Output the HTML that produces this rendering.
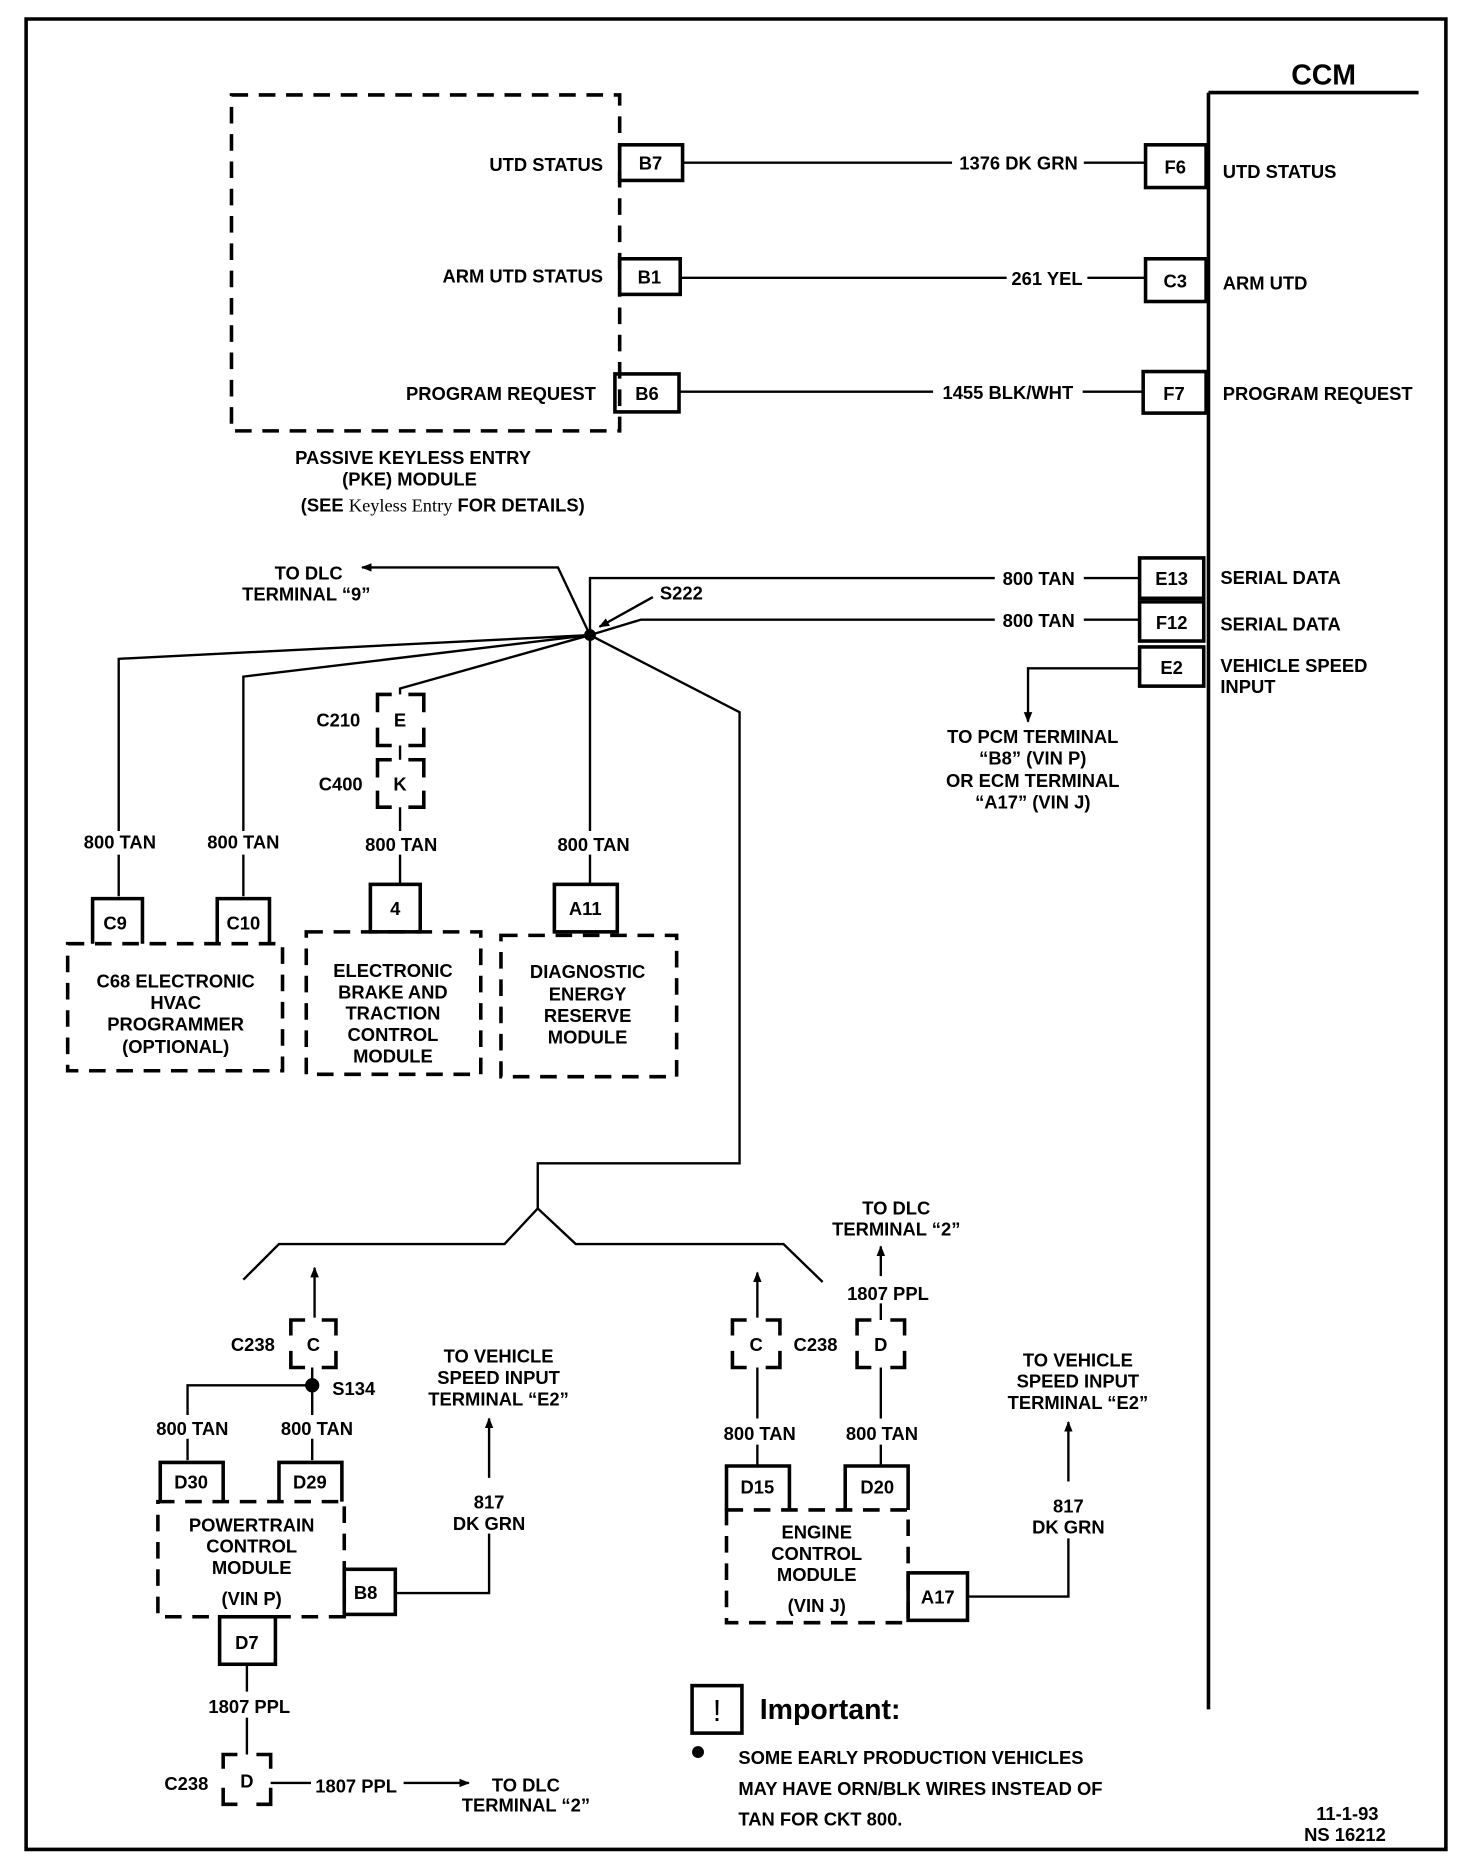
<!DOCTYPE html>
<html><head><meta charset="utf-8"><style>
html,body{margin:0;padding:0;background:#fff;}
svg{display:block;}
text{font-family:"Liberation Sans",sans-serif;font-weight:bold;font-size:15.5px;fill:#000;}
.m{text-anchor:middle}.e{text-anchor:end}
</style></head><body>
<svg width="1472" height="1872" viewBox="0 0 1240 1577" preserveAspectRatio="none" xmlns="http://www.w3.org/2000/svg">
<defs><marker id="ah" viewBox="0 0 10 10" refX="9" refY="5" markerWidth="9" markerHeight="9" orient="auto-start-reverse" markerUnits="userSpaceOnUse"><path d="M0,1 L10,5 L0,9 Z" fill="#000"/></marker></defs>
<g fill="none" stroke="#000" stroke-width="2">
<!-- border -->
<path d="M22,16 H1218 V1558 H22 Z" stroke-width="3"/>
<!-- CCM -->
<path d="M1018,78 H1195 M1018,78 V1440" stroke-width="3"/>
<!-- PKE -->
<rect x="195" y="80" width="327" height="283" stroke-width="3" stroke-dasharray="14,9"/>
<g stroke-width="3">
<rect x="522" y="122" width="53" height="30"/><rect x="522" y="218" width="51" height="30"/><rect x="518" y="315" width="54" height="32"/>
<rect x="965" y="122" width="51" height="36"/><rect x="965" y="218" width="51" height="36"/><rect x="963" y="313" width="53" height="35"/>
<rect x="960" y="470" width="54" height="34"/><rect x="960" y="507" width="54" height="33"/><rect x="960" y="545" width="54" height="33"/>
</g>
<path d="M575,137 H802 M913,137 H965 M573,234 H848 M916,234 H965 M572,330 H786 M912,330 H963"/>
<!-- serial data -->
<path d="M838,487 H497 V535 M913,487 H960"/>
<path d="M838,522 H540 L497,535 M913,522 H960"/>
<path d="M497,535 L470,478 H305" marker-end="url(#ah)"/>
<path d="M550,503 L505,528" marker-end="url(#ah)"/>
<circle cx="497" cy="535" r="4" fill="#000"/>
<path d="M497,535 L100,555 V700 M497,535 L205,570 V700 M497,535 L337,580 V585 M497,535 V700 M497,535 L623,600 V980 H453 V1018"/>
<path d="M960,563 H866 V608" marker-end="url(#ah)"/>
<!-- brackets C210/C400 -->
<g stroke-width="3">
<path d="M330,585 H318 V600 M344,585 H357 V600 M318,613 V628 H330 M357,613 V628 H344"/>
<path d="M330,640 H318 V655 M344,640 H357 V655 M318,666 V680 H330 M357,666 V680 H344"/>
</g>
<path d="M337,628 V640 M337,680 V700 M337,720 V745 M100,720 V755 M205,720 V755 M497,720 V745"/>
<!-- pins -->
<g stroke-width="3">
<path d="M78,795 V757 H120 V795"/><path d="M183,795 V757 H227 V795"/>
<rect x="312" y="745" width="42" height="40"/><rect x="467" y="745" width="53" height="40"/>
</g>
<g stroke-width="3" stroke-dasharray="14,9">
<rect x="57" y="795" width="181" height="107"/><rect x="258" y="785" width="147" height="120"/><rect x="422" y="788" width="148" height="119"/>
</g>
<!-- fork -->
<path d="M453,1018 L425,1048 H235 L205,1078 M453,1018 L485,1048 H660 L693,1080"/>
<!-- lower left -->
<path d="M265,1110 V1068" marker-end="url(#ah)"/>
<g stroke-width="3">
<path d="M257,1112 H245 V1125 M271,1112 H283 V1125 M245,1138 V1152 H257 M283,1138 V1152 H271"/>
</g>
<path d="M263,1152 V1192 M263,1167 H158 V1192 M158,1212 V1230 M263,1212 V1230"/>
<circle cx="263" cy="1167" r="5" fill="#000"/>
<g stroke-width="3"><path d="M135,1265 V1232 H188 V1265"/><path d="M235,1265 V1232 H288 V1265"/>
<rect x="290" y="1322" width="43" height="38"/><rect x="185" y="1362" width="47" height="40"/></g>
<rect x="133" y="1265" width="157" height="97" stroke-width="3" stroke-dasharray="14,9"/>
<path d="M333,1342 H412 V1292 M412,1245 V1195" marker-end="url(#ah)"/>
<path d="M208,1402 V1425 M208,1447 V1478"/>
<g stroke-width="3"><path d="M200,1478 H188 V1490 M216,1478 H228 V1490 M188,1506 V1520 H200 M228,1506 V1520 H216"/></g>
<path d="M228,1502 H262"/>
<path d="M340,1502 H395" marker-end="url(#ah)"/>
<!-- lower right -->
<path d="M638,1110 V1072" marker-end="url(#ah)"/>
<path d="M742,1075 V1050" marker-end="url(#ah)"/>
<g stroke-width="3">
<path d="M629,1112 H617 V1125 M645,1112 H657 V1125 M617,1138 V1152 H629 M657,1138 V1152 H645"/>
<path d="M734,1112 H722 V1125 M750,1112 H762 V1125 M722,1138 V1152 H734 M762,1138 V1152 H750"/>
</g>
<path d="M742,1098 V1112 M638,1152 V1195 M742,1152 V1195 M638,1217 V1235 M742,1217 V1235"/>
<g stroke-width="3"><path d="M612,1272 V1235 H665 V1272"/><path d="M712,1272 V1235 H765 V1272"/>
<rect x="765" y="1325" width="50" height="40"/></g>
<rect x="612" y="1272" width="153" height="95" stroke-width="3" stroke-dasharray="14,9"/>
<path d="M815,1345 H900 V1296 M900,1248 V1198" marker-end="url(#ah)"/>
<rect x="583" y="1420" width="42" height="40" stroke-width="3"/>
</g>
<circle cx="588" cy="1476" r="5"/>
<text x="1115" y="71" class="m" style="font-size:24px">CCM</text>
<text x="508" y="144" class="e">UTD STATUS</text>
<text x="508" y="238" class="e">ARM UTD STATUS</text>
<text x="502" y="337" class="e">PROGRAM REQUEST</text>
<text x="548" y="143" class="m">B7</text><text x="547" y="239" class="m">B1</text><text x="545" y="337" class="m">B6</text>
<text x="858" y="143" class="m">1376 DK GRN</text><text x="882" y="240" class="m">261 YEL</text><text x="849" y="336" class="m">1455 BLK/WHT</text>
<text x="990" y="146" class="m">F6</text><text x="990" y="242" class="m">C3</text><text x="989" y="337" class="m">F7</text>
<text x="1030" y="150">UTD STATUS</text><text x="1030" y="244">ARM UTD</text><text x="1030" y="337">PROGRAM REQUEST</text>
<text x="348" y="391" class="m">PASSIVE KEYLESS ENTRY</text>
<text x="345" y="409" class="m">(PKE) MODULE</text>
<text x="373" y="431" class="m">(SEE <tspan style="font-weight:normal;font-family:'Liberation Serif',serif">Keyless Entry</tspan> FOR DETAILS)</text>
<text x="875" y="493" class="m">800 TAN</text><text x="875" y="528" class="m">800 TAN</text>
<text x="987" y="493" class="m">E13</text><text x="987" y="530" class="m">F12</text><text x="987" y="568" class="m">E2</text>
<text x="1028" y="492">SERIAL DATA</text><text x="1028" y="531">SERIAL DATA</text>
<text x="1028" y="566">VEHICLE SPEED</text><text x="1028" y="584">INPUT</text>
<text x="870" y="626" class="m">TO PCM TERMINAL</text><text x="870" y="644" class="m">“B8” (VIN P)</text>
<text x="870" y="663" class="m">OR ECM TERMINAL</text><text x="870" y="681" class="m">“A17” (VIN J)</text>
<text x="260" y="488" class="m">TO DLC</text><text x="258" y="506" class="m">TERMINAL “9”</text>
<text x="574" y="505" class="m">S222</text>
<text x="285" y="612" class="m">C210</text><text x="337" y="612" class="m">E</text>
<text x="287" y="666" class="m">C400</text><text x="337" y="666" class="m">K</text>
<text x="101" y="715" class="m">800 TAN</text><text x="205" y="715" class="m">800 TAN</text><text x="338" y="717" class="m">800 TAN</text><text x="500" y="717" class="m">800 TAN</text>
<text x="97" y="783" class="m">C9</text><text x="205" y="783" class="m">C10</text><text x="333" y="771" class="m">4</text><text x="493" y="771" class="m">A11</text>
<text x="148" y="832" class="m">C68 ELECTRONIC</text><text x="148" y="850" class="m">HVAC</text><text x="148" y="868" class="m">PROGRAMMER</text><text x="148" y="887" class="m">(OPTIONAL)</text>
<text x="331" y="823" class="m">ELECTRONIC</text><text x="331" y="841" class="m">BRAKE AND</text><text x="331" y="859" class="m">TRACTION</text><text x="331" y="877" class="m">CONTROL</text><text x="331" y="895" class="m">MODULE</text>
<text x="495" y="824" class="m">DIAGNOSTIC</text><text x="495" y="843" class="m">ENERGY</text><text x="495" y="861" class="m">RESERVE</text><text x="495" y="879" class="m">MODULE</text>
<text x="213" y="1138" class="m">C238</text><text x="264" y="1138" class="m">C</text>
<text x="298" y="1175" class="m">S134</text>
<text x="162" y="1209" class="m">800 TAN</text><text x="267" y="1209" class="m">800 TAN</text>
<text x="161" y="1254" class="m">D30</text><text x="261" y="1254" class="m">D29</text>
<text x="212" y="1290" class="m">POWERTRAIN</text><text x="212" y="1308" class="m">CONTROL</text><text x="212" y="1326" class="m">MODULE</text><text x="212" y="1352" class="m">(VIN P)</text>
<text x="308" y="1347" class="m">B8</text><text x="208" y="1389" class="m">D7</text>
<text x="420" y="1148" class="m">TO VEHICLE</text><text x="420" y="1166" class="m">SPEED INPUT</text><text x="420" y="1184" class="m">TERMINAL “E2”</text>
<text x="412" y="1271" class="m">817</text><text x="412" y="1289" class="m">DK GRN</text>
<text x="210" y="1443" class="m">1807 PPL</text>
<text x="157" y="1508" class="m">C238</text><text x="208" y="1506" class="m">D</text>
<text x="300" y="1510" class="m">1807 PPL</text>
<text x="443" y="1509" class="m">TO DLC</text><text x="443" y="1526" class="m">TERMINAL “2”</text>
<text x="755" y="1023" class="m">TO DLC</text><text x="755" y="1041" class="m">TERMINAL “2”</text>
<text x="748" y="1095" class="m">1807 PPL</text>
<text x="637" y="1138" class="m">C</text><text x="687" y="1138" class="m">C238</text><text x="742" y="1138" class="m">D</text>
<text x="640" y="1213" class="m">800 TAN</text><text x="743" y="1213" class="m">800 TAN</text>
<text x="638" y="1258" class="m">D15</text><text x="739" y="1258" class="m">D20</text>
<text x="688" y="1296" class="m">ENGINE</text><text x="688" y="1314" class="m">CONTROL</text><text x="688" y="1332" class="m">MODULE</text><text x="688" y="1358" class="m">(VIN J)</text>
<text x="790" y="1351" class="m">A17</text>
<text x="908" y="1151" class="m">TO VEHICLE</text><text x="908" y="1169" class="m">SPEED INPUT</text><text x="908" y="1187" class="m">TERMINAL “E2”</text>
<text x="900" y="1274" class="m">817</text><text x="900" y="1292" class="m">DK GRN</text>
<text x="604" y="1450" class="m" style="font-size:26px;font-weight:normal">!</text>
<text x="640" y="1448" style="font-size:24px">Important:</text>
<text x="622" y="1486">SOME EARLY PRODUCTION VEHICLES</text>
<text x="622" y="1512">MAY HAVE ORN/BLK WIRES INSTEAD OF</text>
<text x="622" y="1538">TAN FOR CKT 800.</text>
<text x="1135" y="1533" class="m">11-1-93</text><text x="1133" y="1551" class="m">NS 16212</text>
</svg>
</body></html>
